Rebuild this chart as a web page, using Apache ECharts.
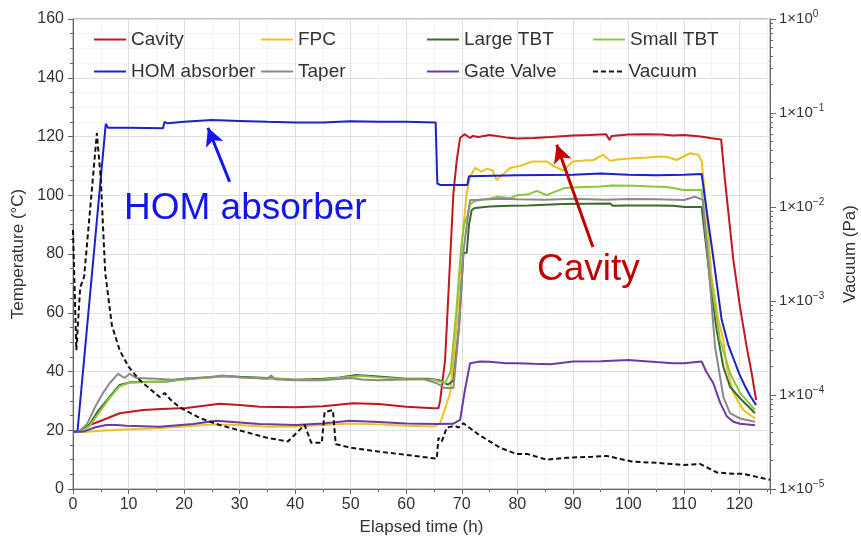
<!DOCTYPE html>
<html>
<head>
<meta charset="utf-8">
<script src="https://cdn.jsdelivr.net/npm/echarts@6/dist/echarts.min.js"></script>
<style>
html, body { margin: 0; padding: 0; background: #fff; }
#chart { width: 861px; height: 541px; }
</style>
</head>
<body>
<div id="chart"></div>
<script>
// elapsed time (h), temperature (°C)
var cavity = [[0,19.5],[1.5,19.8],[3,21.8],[5.4,23.5],[8.4,25.8],[12.6,26.9],[16,27.2],[20.4,27.6],[26.4,29],[30,28.6],[33.6,28],[40.2,27.8],[45,28.2],[50.4,29.2],[55,28.9],[60,28],[65,27.5],[65.8,27.5],[66.1,30],[67,44],[67.9,78],[68.5,100.7],[69.1,112],[69.7,119.5],[70.5,120.8],[71.5,119.5],[72,120.2],[73,119.8],[75,120.5],[78,119.7],[80,119.3],[83,119.5],[86,119.8],[90,120.3],[93,120.5],[96,120.8],[96.6,118.8],[97,120.2],[100,120.7],[103,120.8],[106,120.7],[108,120.3],[110,120.5],[113,120],[115,119.4],[116.7,119],[117.4,105],[118.9,78],[120.1,62],[121.3,48.4],[122.2,39.4],[123,30.3]];
var fpc = [[0,19.3],[2,19.4],[5,19.8],[10,20.3],[15,20.7],[20,21.3],[25,22],[30,21.8],[35,21.2],[40,21.3],[45,21.8],[50,22.3],[55,22],[60,21.5],[65,21.3],[66.1,22.4],[67.9,32.6],[69.1,55.3],[70,83.7],[70.9,100.7],[71.5,106.4],[72.4,109.3],[73.5,108],[74.5,109],[75.5,108.5],[76.3,105.2],[77,106.5],[78.7,109.3],[80.5,110],[82.8,111.5],[85.3,111.5],[86.5,110],[88.3,108.4],[90,111.5],[92,111.8],[93.7,112],[95.5,113.8],[96.7,111.7],[98,112.2],[100.9,112.6],[103,112.8],[105.7,113.2],[107,113],[108.7,112],[111.1,114.3],[112.6,113.8],[113.2,111.5],[113.8,100],[115,72],[116.2,57.6],[117.1,50.7],[117.7,41.6],[118.9,32.6],[120.7,26.9],[122.8,24]];
var largeTBT = [[0,19.5],[1.5,19.6],[3,22],[4.5,26.5],[6.6,31.4],[8.4,35.4],[10.2,36.3],[14,36.5],[17,36.6],[20,37.5],[25,38],[27,38.5],[30,38.2],[35,37.8],[40,37.2],[45,37.5],[48,38],[51,38.8],[55,38.3],[60,37.5],[64,37.5],[66,37],[67.5,35.5],[68.5,37],[69.5,55],[70.3,80.4],[70.9,80.4],[71.3,90],[71.8,95],[72.4,95.7],[75,96.2],[78.7,96.4],[82,96.5],[88.2,97],[96.7,97.2],[97.2,96.4],[100,96.5],[105,96.5],[108,96.4],[110.2,96],[113.2,96],[114.7,71],[115.9,54],[117.1,41.6],[118.3,34.8],[120.1,30.9],[122.8,25.8]];
var smallTBT = [[0,19.5],[1.5,19.6],[3,21.5],[4.5,25.5],[6.6,31],[8.4,35],[10.2,36.2],[15,36.5],[20,37.2],[25,38],[27,38.3],[30,38],[35,37.6],[40,37.2],[45,37.3],[50,38.2],[52,38.5],[55,38],[60,37.4],[65,37.2],[67,36],[68,40],[69,60],[69.8,80],[70.4,90],[71,93],[71.5,97],[72.4,98],[73.3,98.4],[75,98.8],[76.5,99.5],[78.7,99],[80,100],[82,100.3],[83.5,101.5],[85.3,100],[86.5,101],[88.6,102.5],[90,102.6],[92.5,102.8],[95,103],[97,103.3],[100.9,103.2],[104,103],[106.9,102.8],[108.5,102.3],[109.9,101.8],[113.2,101.8],[114.7,73.5],[116.5,50.8],[118.3,39.5],[120.1,32.7],[122.8,26.9]];
var homAbsorber = [[0,19.5],[0.8,19.5],[5.9,124.3],[6.3,123],[10,123],[16.2,122.8],[16.5,125],[17,124.5],[20,125],[25,125.6],[30,125.3],[35,125],[40,124.8],[45,124.8],[50,125.2],[55,125],[60,125],[65.3,124.8],[65.6,104],[66.1,103.5],[71,103.5],[71.3,106.5],[80,106.8],[90,107],[95,107.4],[100,107],[105,106.8],[110,107],[113.2,107.2],[114,96],[115.2,80],[116.8,57.6],[118,49],[119,44],[120,39],[121,35],[122,31.5],[123,28.6]];
var taper = [[0,19.5],[1,19.5],[2.5,22],[4,28],[5.5,33],[6.6,36],[8.1,39.2],[9.3,37.8],[10.2,39.2],[11.4,37.8],[15,37.5],[18,37.2],[20,37.5],[25,38.2],[27,38.6],[30,38],[35,37.5],[35.7,38.7],[36.3,37.4],[40,37],[45,37],[50,37.8],[52,37.3],[55,37],[60,37.3],[63,37.5],[65.5,36],[66.9,34.4],[68.5,34.4],[69.5,55],[70.3,81],[71.5,98.4],[73,98.5],[77,98.8],[80,98.6],[85,98.5],[90,98.8],[96,98.5],[100,98.7],[105,98.6],[110,98.4],[112,99.5],[113.4,98.4],[114.4,76.9],[115.6,48.5],[116.8,34.8],[117.1,31.4],[118.3,25.8],[120.1,24],[122.8,22.9]];
var gateValve = [[0,19.5],[2,19.6],[4,21],[6,21.8],[7.8,21.8],[9.6,21.5],[15.6,21.2],[21.6,22.1],[25.8,23.2],[28.2,22.9],[33.6,22.1],[40.2,21.8],[45,22.3],[49.8,23.2],[55,22.8],[60,22.3],[65.5,22.1],[68.4,22.2],[69.7,23.5],[70.5,33],[71.5,42.8],[73.3,43.4],[75,43.3],[78,42.8],[80,42.8],[83,42.6],[86,42.5],[90,43.4],[95,43.5],[100,43.9],[103,43.5],[105,43.2],[108,42.8],[110,42.8],[113.2,43.4],[114,40],[115.3,36],[116.5,29.5],[117.7,24.8],[118.9,22.9],[120.1,22.2],[122.8,21.7]];
// elapsed time (h), pressure (Pa)
var vacuum = [[0,5.7e-3],[0.6,3.0e-4],[1.3,1.4e-3],[2.0,1.8e-3],[4.3,6.1e-2],[5.0,2.0e-2],[5.8,2.0e-3],[7.0,5.5e-4],[8.4,3.0e-4],[10,2.0e-4],[12,1.44e-4],[15.6,9.5e-5],[16.5,1.05e-4],[17.5,9.0e-5],[19.2,7.4e-5],[22.8,5.7e-5],[26.4,4.8e-5],[30,4.2e-5],[35,3.5e-5],[38.7,3.2e-5],[41.7,4.8e-5],[42.9,3.1e-5],[44.8,3.1e-5],[45.3,6.6e-5],[46.8,6.9e-5],[47.3,3.0e-5],[50,2.75e-5],[55,2.5e-5],[58.9,2.35e-5],[65.5,2.1e-5],[65.8,3.5e-5],[66.4,3.2e-5],[67.3,4.5e-5],[68.8,4.7e-5],[69.4,4.5e-5],[70.3,5.0e-5],[73.3,3.7e-5],[76.9,2.75e-5],[79.9,2.35e-5],[81.9,2.35e-5],[85.3,2.05e-5],[88.9,2.15e-5],[93.4,2.2e-5],[96.1,2.25e-5],[100.8,1.95e-5],[105,1.9e-5],[109.9,1.8e-5],[112.9,1.85e-5],[115.9,1.5e-5],[118.9,1.45e-5],[120.7,1.45e-5],[125.5,1.25e-5]];

var seriesNames = ['Cavity', 'FPC', 'Large TBT', 'Small TBT', 'HOM absorber', 'Taper', 'Gate Valve', 'Vacuum'];
var vacuumDecades = [1e-5, 1e-4, 1e-3, 1e-2, 1e-1, 1];

var FONT = 'Liberation Sans, Arial, sans-serif';

// minor log ticks 2..9 within each decade
var vacuumMinor = [];
for (var d = 0; d < vacuumDecades.length - 1; d++) {
    for (var k = 2; k <= 9; k++) vacuumMinor.push(k * vacuumDecades[d]);
}

function sup(v) {
    var e = Math.round(Math.log(v) / Math.LN10);
    return '1×10{s|' + (e < 0 ? '−' + (-e) : e) + '}';
}

var SOLID_ICON = 'path://M0,0H32V2H0Z';
var DASH_ICON = 'path://M0,0H5V2H0Z M8,0H13V2H8Z M16,0H21V2H16Z M24,0H29V2H24Z';

var legendPos = [
    [94, 30], [261, 30], [427, 30], [593, 30],
    [94, 62], [261, 62], [427, 62], [593, 62]
];
var legends = seriesNames.map(function (n, i) {
    return {
        data: [{name: n, icon: n === 'Vacuum' ? DASH_ICON : SOLID_ICON}],
        left: legendPos[i][0],
        top: legendPos[i][1],
        padding: 0,
        itemWidth: 32,
        itemHeight: 2,
        textStyle: {fontFamily: FONT, fontSize: 19, color: '#333'},
        selectedMode: false
    };
});

var chart = echarts.init(document.getElementById('chart'));
var option = {
    animation: false,
    backgroundColor: '#fff',
    textStyle: {fontFamily: FONT},
    grid: {left: 73, right: 91, top: 19, bottom: 52, outerBoundsMode: 'none', containLabel: false,
        show: true, borderColor: '#8a8a8a', borderWidth: 1},
    legend: legends,
    xAxis: {
        type: 'value', min: 0, max: 125.5, interval: 10,
        name: 'Elapsed time (h)', nameLocation: 'middle', nameGap: 30,
        nameTextStyle: {fontSize: 17, color: '#333', fontFamily: FONT},
        axisLine: {lineStyle: {color: '#666'}},
        axisTick: {inside: false, length: 5, lineStyle: {color: '#666'}},
        minorTick: {show: true, splitNumber: 2, length: 3, lineStyle: {color: '#666'}},
        axisLabel: {fontSize: 16, color: '#333', margin: 8,
            formatter: function (v) { return v % 10 === 0 ? v : ''; }},
        splitLine: {show: true, lineStyle: {color: '#dedede'}},
        minorSplitLine: {show: true, lineStyle: {color: '#f3f3f3'}}
    },
    yAxis: [{
        type: 'value', min: 0, max: 160, interval: 20,
        name: 'Temperature (°C)', nameLocation: 'middle', nameGap: 43,
        nameTextStyle: {fontSize: 17, color: '#333', fontFamily: FONT},
        axisLine: {show: true, lineStyle: {color: '#666'}},
        axisTick: {show: true, length: 5, lineStyle: {color: '#666'}},
        minorTick: {show: true, splitNumber: 4, length: 3, lineStyle: {color: '#666'}},
        axisLabel: {fontSize: 16, color: '#333', margin: 9},
        splitLine: {show: true, lineStyle: {color: '#dedede'}},
        minorSplitLine: {show: true, lineStyle: {color: '#f3f3f3'}}
    }, {
        type: 'log', logBase: 10, min: 1e-5, max: 1, position: 'right',
        name: 'Vacuum (Pa)', nameLocation: 'middle', nameGap: 72, nameRotate: 90,
        nameTextStyle: {fontSize: 17, color: '#333', fontFamily: FONT},
        axisLine: {show: true, lineStyle: {color: '#666'}},
        axisTick: {show: true, length: 6, lineStyle: {color: '#666'}},
        axisLabel: {fontSize: 15, color: '#333', margin: 9, formatter: sup,
            rich: {s: {fontSize: 10, padding: [0, 0, 9, 0], color: '#333'}}},
        splitLine: {show: false}
    }, {
        type: 'log', logBase: 10, min: 1e-5, max: 1, position: 'right',
        axisLine: {show: false},
        axisTick: {show: true, length: 3, customValues: vacuumMinor, lineStyle: {color: '#666'}},
        axisLabel: {show: false},
        splitLine: {show: false}
    }],
    series: [
        {name: 'Cavity', type: 'line', data: cavity, showSymbol: false, symbol: 'none', lineStyle: {width: 2}, color: '#c0181f', z: 3,
            markLine: {
                silent: true, symbol: ['none', 'arrow'], symbolSize: [14, 18],
                lineStyle: {color: '#c00000', width: 3, type: 'solid'}, label: {show: false},
                data: [[{coord: [93.6, 82.4]}, {coord: [87.1, 117.2]}]]
            }},
        {name: 'FPC', type: 'line', data: fpc, showSymbol: false, symbol: 'none', lineStyle: {width: 2}, color: '#f0c020'},
        {name: 'Large TBT', type: 'line', data: largeTBT, showSymbol: false, symbol: 'none', lineStyle: {width: 2}, color: '#3b6a2c'},
        {name: 'Small TBT', type: 'line', data: smallTBT, showSymbol: false, symbol: 'none', lineStyle: {width: 2}, color: '#8cc63e'},
        {name: 'HOM absorber', type: 'line', data: homAbsorber, showSymbol: false, symbol: 'none', lineStyle: {width: 2}, color: '#1a22c8', z: 3,
            markLine: {
                silent: true, symbol: ['none', 'arrow'], symbolSize: [14, 18],
                lineStyle: {color: '#1414f0', width: 3, type: 'solid'}, label: {show: false},
                data: [[{coord: [28.2, 104.6]}, {coord: [24.3, 123]}]]
            }},
        {name: 'Taper', type: 'line', data: taper, showSymbol: false, symbol: 'none', lineStyle: {width: 2}, color: '#8a8a8a'},
        {name: 'Gate Valve', type: 'line', data: gateValve, showSymbol: false, symbol: 'none', lineStyle: {width: 2}, color: '#6b3aa8'},
        {name: 'Vacuum', type: 'line', yAxisIndex: 1, data: vacuum, showSymbol: false, symbol: 'none', lineStyle: {width: 2, type: [5, 3]}, color: '#111'}
    ],
    graphic: [
        {type: 'text', left: 124, top: 190, z: 100,
            style: {text: 'HOM absorber', font: '37px ' + FONT, fill: '#1414f0'}},
        {type: 'text', left: 537, top: 251, z: 100,
            style: {text: 'Cavity', font: '37px ' + FONT, fill: '#c00000'}}
    ]
};
chart.setOption(option);
</script>
</body>
</html>
